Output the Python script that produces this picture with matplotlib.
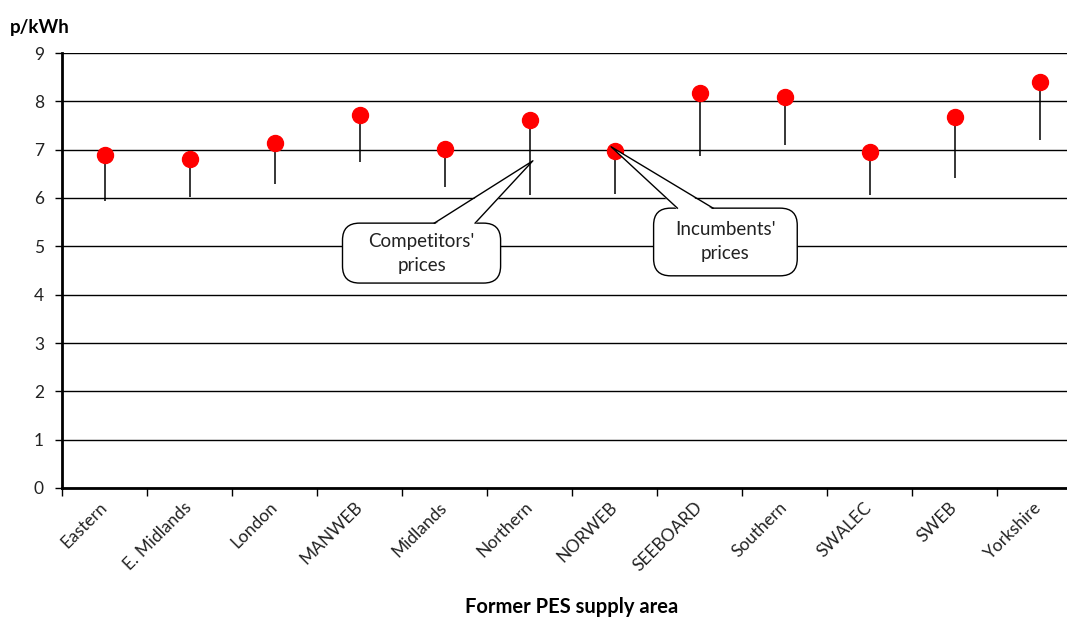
import numpy as np
import matplotlib
matplotlib.use("Agg")
import matplotlib.pyplot as plt
import matplotlib.transforms as mtransforms
from matplotlib.patches import FancyBboxPatch, Polygon

plt.rcParams['font.family'] = ['Lato', 'DejaVu Sans']

# data
areas = ["Eastern", "E. Midlands", "London", "MANWEB", "Midlands", "Northern",
         "NORWEB", "SEEBOARD", "Southern", "SWALEC", "SWEB", "Yorkshire"]
incumbent_prices = [6.89, 6.81, 7.13, 7.72, 7.01, 7.61, 6.98, 8.17, 8.08, 6.95, 7.67, 8.39]
competitor_low = [5.94, 6.03, 6.28, 6.74, 6.23, 6.06, 6.08, 6.86, 7.10, 6.06, 6.41, 7.19]
y_ticks = [0, 1, 2, 3, 4, 5, 6, 7, 8, 9]

fig = plt.figure(figsize=(10.67, 6.19), dpi=100)
# right edge of the plot runs past the image, like the original
ax = fig.add_axes([62 / 1067, 131 / 619, 1020 / 1067, 435 / 619])

x = np.arange(len(areas))
ax.vlines(x, competitor_low, incumbent_prices, color="black", lw=1.1, zorder=3)
ax.plot(x, incumbent_prices, "o", color="#ff0000", ms=11.5, mec="#ff0000", zorder=4)

ax.set_xlim(-0.5, len(areas) - 0.5)
ax.set_ylim(0, 9)
ax.set_yticks(y_ticks)
ax.set_yticklabels([str(t) for t in y_ticks], fontsize=12.5, color="#222222")
ax.yaxis.grid(True, color="black", lw=1)
ax.set_axisbelow(True)

ax.set_xticks(x)
ax.set_xticklabels(areas, rotation=45, ha="right", va="center", rotation_mode="anchor",
                   fontsize=12.5, color="#222222")
shift = mtransforms.ScaledTranslation(-11 / 72, 0, fig.dpi_scale_trans)
for lbl in ax.get_xticklabels():
    lbl.set_transform(lbl.get_transform() + shift)
ax.set_xticks(np.arange(len(areas) + 1) - 0.5, minor=True)
ax.tick_params(axis="x", which="major", length=0, pad=12)
ax.tick_params(axis="x", which="minor", length=6, width=1, color="black")
ax.tick_params(axis="y", length=5, width=1, color="black", pad=8)

for side in ["top", "right"]:
    ax.spines[side].set_visible(False)
ax.spines["left"].set_linewidth(2)
ax.spines["bottom"].set_linewidth(2)

fig.text(572 / 1067, 1 - 607 / 619, "Former PES supply area", fontsize=14.5,
         fontweight="bold", ha="center", va="center")
fig.text(10 / 1067, 1 - 27 / 619, "p/kWh", fontsize=13.5, fontweight="bold", va="center")

# callouts: box (x0, x1, y0, y1), wedge base (xa, xb), tip (x, y)
def callout(text, box, base, tip):
    x0, x1, y0, y1 = box
    aspect = 85 / 48.33
    patch = FancyBboxPatch((x0, y0), x1 - x0, y1 - y0,
                           boxstyle="round,pad=0,rounding_size=0.2",
                           mutation_aspect=aspect, fc="white", ec="black",
                           lw=1, zorder=5)
    ax.add_patch(patch)
    fill = Polygon([(base[0], y1 - 0.03), (base[1], y1 - 0.03), tip],
                   closed=True, fc="white", ec="none", zorder=6)
    ax.add_patch(fill)
    ax.plot([base[0], tip[0], base[1]], [y1, tip[1], y1], color="black", lw=1, zorder=7)
    ax.text((x0 + x1) / 2, (y0 + y1) / 2, text, ha="center", va="center",
            fontsize=13.5, linespacing=1.5, color="#222222", zorder=8)

callout("Competitors'\nprices", (2.80, 4.66, 4.24, 5.48), (3.88, 4.36), (5.04, 6.77))
callout("Incumbents'\nprices", (6.46, 8.15, 4.39, 5.79), (6.74, 7.16), (5.96, 7.06))

fig.savefig("out.png", dpi=100)
